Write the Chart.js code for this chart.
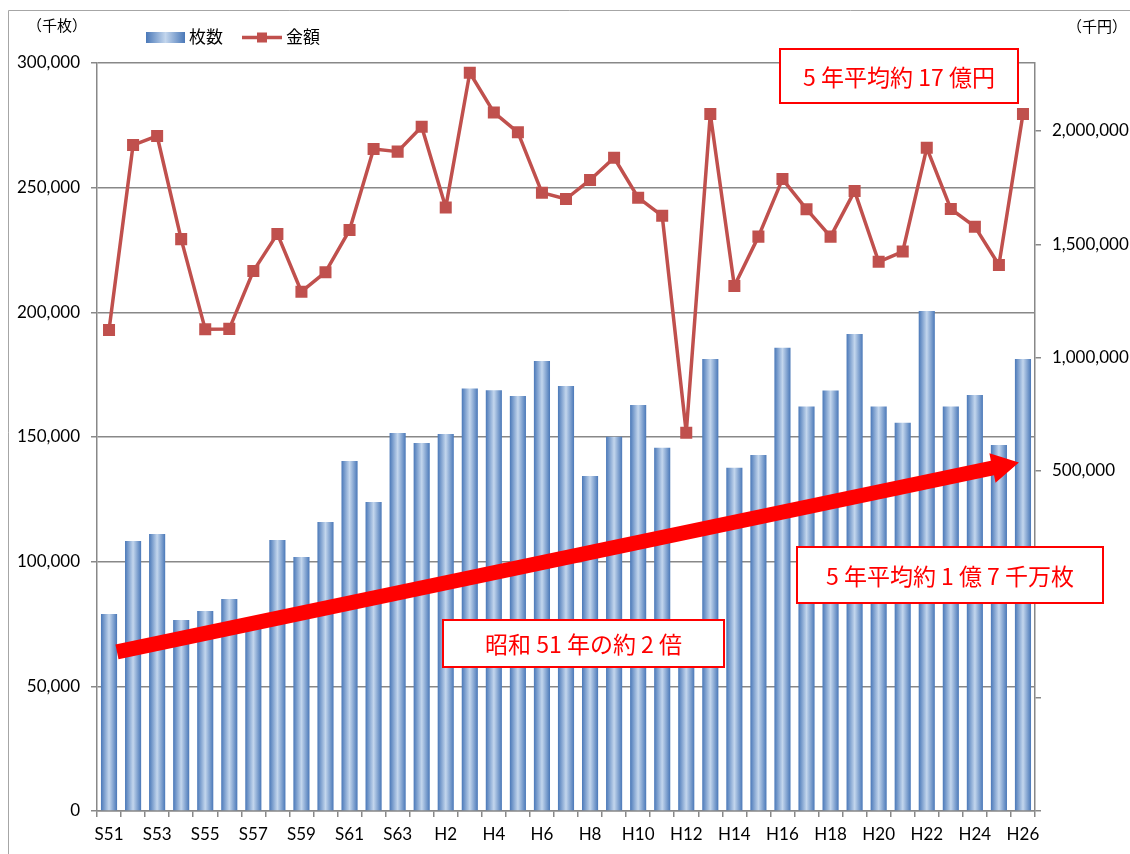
<!DOCTYPE html>
<html><head><meta charset="utf-8">
<script src="https://cdn.jsdelivr.net/npm/chart.js@4"></script>
<style>html,body{margin:0;padding:0;background:#fff}#wrap{width:1130px;height:854px;position:relative}canvas{display:block}</style>
</head><body><div id="wrap"><canvas id="c" width="1130" height="854"></canvas></div>
<script>
// ---- data ----
const categories = ['S51','S52','S53','S54','S55','S56','S57','S58','S59','S60','S61','S62','S63','H1',
  'H2','H3','H4','H5','H6','H7','H8','H9','H10','H11','H12','H13','H14','H15','H16','H17','H18','H19',
  'H20','H21','H22','H23','H24','H25','H26'];
// 枚数 (千枚)
const sheets = [79000,108300,111100,76600,80200,85000,75000,108700,101900,115900,140400,123900,151600,147600,
  151200,169500,168800,166400,180500,170500,134400,150100,162800,145700,63000,181300,137700,142800,185800,162200,168600,191300,
  162200,155700,200500,162200,166800,146800,181300];
// 金額 (千円)
const amounts = [1122000,1938000,1978000,1523000,1125000,1127000,1382000,1546000,1291000,1377000,1563000,1921000,1909000,2019000,
  1663000,2257000,2082000,1994000,1728000,1700000,1784000,1882000,1706000,1626000,669000,2075000,1316000,1534000,1788000,1655000,1534000,1735000,
  1423000,1468000,1926000,1656000,1578000,1409000,2075000];
const leftTicks = [0,50000,100000,150000,200000,250000,300000];
const rightTicks = [-1000000,-500000,0,500000,1000000,1500000,2000000];
const rightLabelMin = 500000;
const seriesNames = ['枚数','金額'];
const unitLeft = '（千枚）', unitRight = '（千円）';
const notes = ['5 年平均約 17 億円','5 年平均約 1 億 7 千万枚','昭和 51 年の約 2 倍'];

const GRID = '#888888';
const NUMFONT = {family:'Lato', size:17};
const JP = '"Noto Sans CJK JP"';
const fmt = v => Number(v).toLocaleString('en-US');
const FALLBACK = '#7fa2d2';

function barGradient(c, x0, x1){
  if(!isFinite(x0) || !isFinite(x1) || x1<=x0) return FALLBACK;
  const g = c.createLinearGradient(x0,0,x1,0);
  g.addColorStop(0,'#4a78b8');
  g.addColorStop(0.5,'#c3d6ed');
  g.addColorStop(1,'#4a78b8');
  return g;
}

const decor = {
  id:'decor',
  beforeDraw(chart){
    const c = chart.ctx;
    c.save();
    c.fillStyle = '#fff'; c.fillRect(0,0,chart.width,chart.height);
    c.strokeStyle = '#a6a6a6'; c.lineWidth = 1;
    c.beginPath(); c.moveTo(8.5, 860); c.lineTo(8.5,10.5); c.lineTo(1140,10.5); c.stroke();
    c.restore();
  },
  afterDatasetsDraw(chart){
    const c = chart.ctx, xs = chart.scales.x, yl = chart.scales.y;
    const x0 = xs.getPixelForValue(0.33), y0 = yl.getPixelForValue(63800);
    const x1 = xs.getPixelForValue(37.83), y1 = yl.getPixelForValue(139800);
    if(!isFinite(x0+x1+y0+y1)) return;
    const ang = Math.atan2(y1-y0, x1-x0), L = Math.hypot(x1-x0, y1-y0);
    const hl = 27, hw = 15, sw = 7.5;
    c.save();
    c.translate(x0,y0); c.rotate(ang);
    c.fillStyle = '#ff0000';
    c.beginPath();
    c.moveTo(0,-sw); c.lineTo(L-hl,-sw); c.lineTo(L-hl,-hw); c.lineTo(L,0);
    c.lineTo(L-hl,hw); c.lineTo(L-hl,sw); c.lineTo(0,sw); c.closePath(); c.fill();
    c.restore();
  },
  afterDraw(chart){
    const c = chart.ctx;
    c.save();
    const boxes = [[780,49,238,54,notes[0]],[797,547,306,56,notes[1]],[443,620,281,47,notes[2]]];
    boxes.forEach(([x,y,w,h,t])=>{
      c.fillStyle='#fff'; c.fillRect(x,y,w,h);
      c.strokeStyle='#ff0000'; c.lineWidth=2; c.strokeRect(x,y,w,h);
      c.fillStyle='#ff0000'; c.font='23px '+JP; c.textAlign='center'; c.textBaseline='middle';
      c.fillText(t, x+w/2, y+h/2+1);
    });
    c.fillStyle = barGradient(c,146,185); c.fillRect(146,32,39,11);
    c.fillStyle='#000'; c.font='17px '+JP; c.textAlign='left'; c.textBaseline='middle';
    c.fillText(seriesNames[0],189,37);
    c.strokeStyle='#c0504d'; c.lineWidth=3.5; c.beginPath(); c.moveTo(242,37.5); c.lineTo(282,37.5); c.stroke();
    c.fillStyle='#c0504d'; c.fillRect(257,32.5,10,10);
    c.fillStyle='#000'; c.fillText(seriesNames[1],286,37);
    c.font='15px '+JP;
    c.fillText(unitLeft,27,25);
    c.fillText(unitRight,1067,26);
    c.restore();
  }
};

new Chart(document.getElementById('c'), {
  type:'bar',
  data:{
    labels: categories,
    datasets:[
      {type:'line', label:seriesNames[1], data:amounts, yAxisID:'y2', order:0,
       borderColor:'#c0504d', borderWidth:3.5, tension:0, borderJoinStyle:'round', borderCapStyle:'round',
       pointStyle:'rect', pointRadius:8.5, pointHoverRadius:8.5,
       pointBackgroundColor:'#c0504d', pointBorderWidth:0},
      {type:'bar', label:seriesNames[0], data:sheets, yAxisID:'y', order:1,
       barPercentage:0.67, categoryPercentage:1,
       backgroundColor(ctx){
         const ch = ctx.chart, xs = ch.scales && ch.scales.x;
         if(!xs || typeof ctx.dataIndex !== 'number') return FALLBACK;
         const x = xs.getPixelForValue(ctx.dataIndex);
         const w = (xs.right - xs.left)/categories.length*0.67;
         return barGradient(ch.ctx, x-w/2, x+w/2);
       },
       borderWidth:0}
    ]
  },
  options:{
    responsive:false, animation:false, devicePixelRatio:1,
    layout:{padding:{top:63,left:0,right:0,bottom:0}},
    plugins:{legend:{display:false}, tooltip:{enabled:false}},
    scales:{
      x:{
        offset:true,
        grid:{offset:true, drawOnChartArea:false, drawTicks:true, tickLength:6, color:GRID, lineWidth:1.5},
        border:{display:true, color:GRID, width:1.5},
        ticks:{autoSkip:false, maxRotation:0, minRotation:0, padding:7, color:'#000', font:NUMFONT,
               callback:(v,i)=> i%2===0 ? categories[i] : ''},
        afterFit(s){ s.height = 43; }
      },
      y:{
        position:'left', min:0, max:300000,
        afterBuildTicks(a){ a.ticks = leftTicks.map(v=>({value:v})); },
        grid:{color:GRID, lineWidth:1.5, tickLength:6},
        border:{display:true, color:GRID, width:1.5},
        ticks:{padding:11, color:'#000', font:NUMFONT, callback:v=>fmt(v)},
        afterFit(s){ s.width = 97; }
      },
      y2:{
        position:'right', min:-1000000, max:2300000,
        afterBuildTicks(a){ a.ticks = rightTicks.map(v=>({value:v})); },
        grid:{drawOnChartArea:false, color:GRID, lineWidth:1.5, tickLength:6},
        border:{display:true, color:GRID, width:1.5},
        ticks:{padding:11, color:'#000', font:NUMFONT, callback:v=> v>=rightLabelMin ? fmt(v) : ''},
        afterFit(s){ s.width = 95; }
      }
    }
  },
  plugins:[decor]
});
</script>
</body></html>
